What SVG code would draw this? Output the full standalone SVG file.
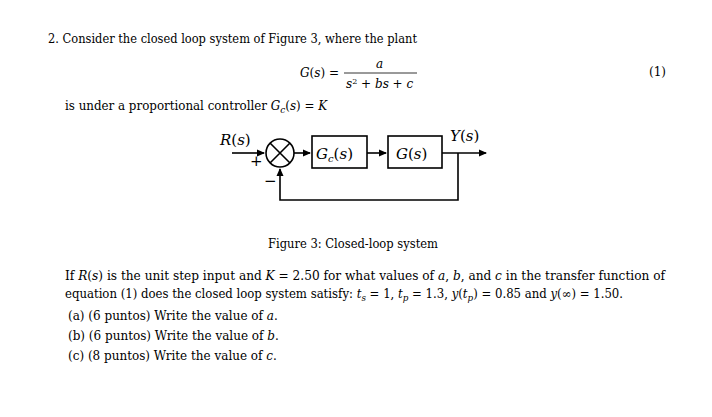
<svg xmlns="http://www.w3.org/2000/svg" width="712" height="417" viewBox="0 0 712 417" font-family="'DejaVu Serif', 'Liberation Serif', serif">
<style>
text{font-family:"DejaVu Serif","Liberation Serif",serif;font-size:12px;fill:#000}
.b{font-size:15px}
.l{stroke:#000;stroke-width:1.6;fill:none}
</style>
<defs><marker id="a" markerWidth="8" markerHeight="8" refX="7" refY="4" orient="auto" markerUnits="userSpaceOnUse"><path d="M0,0.5 L8,4 L0,7.5z" fill="#000"/></marker></defs>
<rect width="712" height="417" fill="#fff"/>
<text x="48" y="43" textLength="369" lengthAdjust="spacingAndGlyphs">2.  Consider the closed loop system of Figure 3, where the plant</text>
<text x="300" y="77"><tspan font-style="italic">G</tspan>(<tspan font-style="italic">s</tspan>) =</text>
<text x="376" y="68" font-style="italic" font-size="11">a</text>
<line x1="344" y1="73" x2="417" y2="73" stroke="#000" stroke-width="0.8"/>
<text x="346" y="88" font-size="11"><tspan font-style="italic">s</tspan><tspan font-size="8" dy="-4">2</tspan><tspan dy="4"> + </tspan><tspan font-style="italic">bs</tspan> + <tspan font-style="italic">c</tspan></text>
<text x="649" y="76">(1)</text>
<text x="65" y="110" textLength="262" lengthAdjust="spacingAndGlyphs">is under a proportional controller <tspan font-style="italic">G</tspan><tspan font-style="italic" font-size="9" dy="3">c</tspan><tspan dy="-3">(</tspan><tspan font-style="italic">s</tspan>) = <tspan font-style="italic">K</tspan></text>
<g id="connectors">
<path class="l" d="M232,153 H264" marker-end="url(#a)"/>
<path class="l" d="M294,153 H310" marker-end="url(#a)"/>
<path class="l" d="M367,153 H386" marker-end="url(#a)"/>
<path class="l" d="M442,153 H486" marker-end="url(#a)"/>
<path class="l" d="M458,153 V200 H280 V169" marker-end="url(#a)"/>
</g>
<g id="sum">
<circle class="l" cx="280" cy="153" r="14"/>
<path class="l" d="M270,143 L290,163 M290,143 L270,163"/>
<text x="250" y="166" class="b">+</text>
<text x="264" y="186" class="b">−</text>
</g>
<g id="input"><text x="220" y="145" class="b"><tspan font-style="italic">R</tspan>(<tspan font-style="italic">s</tspan>)</text></g>
<g id="Gc"><rect class="l" x="312" y="136" width="55" height="32"/>
<text x="316" y="159" class="b"><tspan font-style="italic">G</tspan><tspan font-style="italic" font-size="10" dy="3">c</tspan><tspan dy="-3">(</tspan><tspan font-style="italic">s</tspan>)</text></g>
<g id="G"><rect class="l" x="388" y="136" width="54" height="32"/>
<text x="396" y="159" class="b"><tspan font-style="italic">G</tspan>(<tspan font-style="italic">s</tspan>)</text></g>
<g id="output"><text x="450" y="141" class="b"><tspan font-style="italic">Y</tspan>(<tspan font-style="italic">s</tspan>)</text></g>
<text x="268" y="248" textLength="170" lengthAdjust="spacingAndGlyphs">Figure 3: Closed-loop system</text>
<text x="65" y="280" textLength="600" lengthAdjust="spacingAndGlyphs">If <tspan font-style="italic">R</tspan>(<tspan font-style="italic">s</tspan>) is the unit step input and <tspan font-style="italic">K</tspan> = 2.50 for what values of <tspan font-style="italic">a</tspan>, <tspan font-style="italic">b</tspan>, and <tspan font-style="italic">c</tspan> in the transfer function of</text>
<text x="65" y="298" textLength="558" lengthAdjust="spacingAndGlyphs">equation (1) does the closed loop system satisfy: <tspan font-style="italic">t</tspan><tspan font-style="italic" font-size="9" dy="3">s</tspan><tspan dy="-3"> = 1, </tspan><tspan font-style="italic">t</tspan><tspan font-style="italic" font-size="9" dy="3">p</tspan><tspan dy="-3"> = 1.3, </tspan><tspan font-style="italic">y</tspan>(<tspan font-style="italic">t</tspan><tspan font-style="italic" font-size="9" dy="3">p</tspan><tspan dy="-3">) = 0.85 and </tspan><tspan font-style="italic">y</tspan>(∞) = 1.50.</text>
<text x="68" y="320">(a)  (6 puntos)  Write the value of <tspan font-style="italic">a</tspan>.</text>
<text x="68" y="340">(b)  (6 puntos)  Write the value of <tspan font-style="italic">b</tspan>.</text>
<text x="68" y="360">(c)  (8 puntos)  Write the value of <tspan font-style="italic">c</tspan>.</text>
</svg>
